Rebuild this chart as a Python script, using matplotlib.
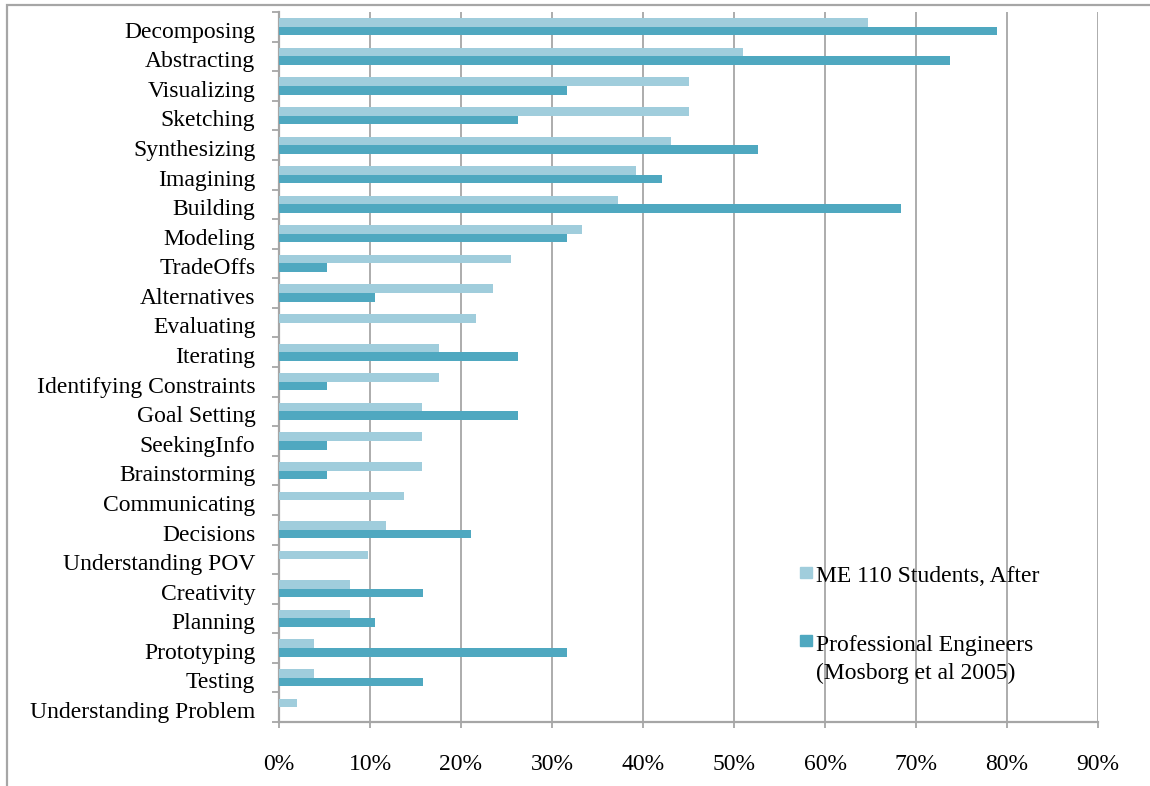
import matplotlib.pyplot as plt
import matplotlib.patches as mpatches
import numpy as np
from matplotlib.ticker import FixedLocator, PercentFormatter
from matplotlib.transforms import ScaledTranslation

plt.rcParams["font.family"] = ["Liberation Serif", "DejaVu Serif"]

# ── Data ────────────────────────────────────────────────────────────────────
categories = [
    "Decomposing", "Abstracting", "Visualizing", "Sketching", "Synthesizing",
    "Imagining", "Building", "Modeling", "TradeOffs", "Alternatives",
    "Evaluating", "Iterating", "Identifying Constraints", "Goal Setting",
    "SeekingInfo", "Brainstorming", "Communicating", "Decisions",
    "Understanding POV", "Creativity", "Planning", "Prototyping", "Testing",
    "Understanding Problem",
]
students_after = [
    64.7, 51.0, 45.1, 45.1, 43.1, 39.2, 37.3, 33.3, 25.5, 23.5, 21.6, 17.6,
    17.6, 15.7, 15.7, 15.7, 13.7, 11.8, 9.8, 7.8, 7.8, 3.9, 3.9, 2.0,
]
professionals = [
    78.9, 73.7, 31.6, 26.3, 52.6, 42.1, 68.4, 31.6, 5.3, 10.5, 0.0, 26.3,
    5.3, 26.3, 5.3, 5.3, 0.0, 21.1, 0.0, 15.8, 10.5, 31.6, 15.8, 0.0,
]
series_labels = ["ME 110 Students, After",
                 "Professional Engineers\n(Mosborg et al 2005)"]
x_ticks = [0, 10, 20, 30, 40, 50, 60, 70, 80, 90]

LIGHT = "#A0CDDC"
DARK = "#4FA8C0"
GRID = "#A6A6A6"
FS = 17

fig = plt.figure(figsize=(11.5, 7.86), dpi=100)
ax = fig.add_axes([0.2426, 0.0814, 0.7122, 0.9033])

y = np.arange(len(categories))
h = 0.29
ax.barh(y - h / 2, students_after, height=h, color=LIGHT, zorder=3)
ax.barh(y + h / 2, professionals, height=h, color=DARK, zorder=3)

ax.set_ylim(len(categories) - 0.5, -0.5)
ax.set_xlim(0, 90)

# x axis: percent ticks with vertical gridlines
ax.xaxis.set_major_locator(FixedLocator(x_ticks))
ax.xaxis.set_major_formatter(PercentFormatter(decimals=0))
ax.grid(axis="x", color=GRID, lw=1.3, zorder=0)
ax.tick_params(axis="x", length=4, width=1.3, color=GRID, pad=19,
               labelsize=FS)

# y axis: labels at centres, tick marks at category boundaries
ax.set_yticks(y)
ax.set_yticklabels(categories)
ax.set_yticks(np.arange(len(categories) + 1) - 0.5, minor=True)
ax.tick_params(axis="y", which="major", length=0, pad=17, labelsize=FS)
ax.tick_params(axis="y", which="minor", length=5, width=1.3, color=GRID)
shift = ScaledTranslation(0, -2 / 72, fig.dpi_scale_trans)
for lab in ax.get_yticklabels():
    lab.set_transform(lab.get_transform() + shift)

for side in ["top", "right"]:
    ax.spines[side].set_visible(False)
for side in ["left", "bottom"]:
    ax.spines[side].set_color(GRID)
    ax.spines[side].set_linewidth(1.6)

# legend drawn by hand so the square sits beside the first text line
W, H = 1150, 786
leg = [(800, 567, 579), (800, 635, 648)]
for (px, py, ty), color, label in zip(leg, [LIGHT, DARK], series_labels):
    fig.patches.append(mpatches.Rectangle(
        (px / W, 1 - (py + 11) / H), 12 / W, 11 / H,
        transform=fig.transFigure, color=color))
    fig.text(816 / W, 1 - (ty - 13) / H, label, fontsize=FS, va="top",
             ha="left", linespacing=1.4)

# outer frame (only top and left edges fall inside the canvas)
fig.patches.append(mpatches.Rectangle(
    (7 / W, -0.2), 2.0, 1.2 - 5 / H, transform=fig.transFigure,
    fill=False, edgecolor=GRID, lw=1.6))

fig.savefig("out.png", dpi=100)
